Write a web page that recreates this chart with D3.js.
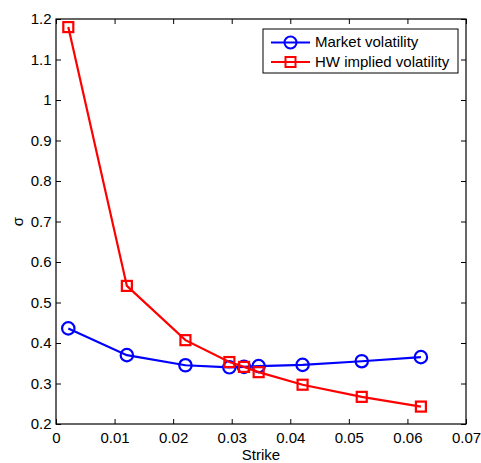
<!DOCTYPE html>
<html><head><meta charset="utf-8">
<script src="https://cdn.jsdelivr.net/npm/d3@7"></script>
<style>body{margin:0;background:#fff}svg{display:block}text{font-family:"Liberation Sans",Arial,sans-serif}</style>
</head><body><svg id="c" width="481" height="463"></svg>
<script>
const strikes = [0.0021, 0.0121, 0.0221, 0.0296, 0.0321, 0.0346, 0.0421, 0.0522, 0.0623];
const marketVol = [0.436, 0.370, 0.345, 0.340, 0.341, 0.343, 0.346, 0.355, 0.365];
const hwVol = [1.180, 0.541, 0.407, 0.353, 0.341, 0.328, 0.297, 0.267, 0.243];
const xTicks = [0, 0.01, 0.02, 0.03, 0.04, 0.05, 0.06, 0.07];
const yTicks = [0.2, 0.3, 0.4, 0.5, 0.6, 0.7, 0.8, 0.9, 1, 1.1, 1.2];
const seriesNames = ["Market volatility", "HW implied volatility"];

const L = 56, R = 466, T = 19, B = 424;
const FS = 15;
const svg = d3.select("#c");
const x = d3.scaleLinear().domain([0, 0.07]).range([L, R]);
const y = d3.scaleLinear().domain([0.2, 1.2]).range([B, T]);
const fmt = d => String(d);

function styleAxis(g){
  g.selectAll(".domain").remove();
  g.selectAll("line").attr("stroke", "#000").attr("stroke-width", 1);
  g.selectAll("text").attr("font-size", FS).attr("fill", "#000").attr("font-family", "Liberation Sans, Arial, sans-serif");
}
svg.append("g").attr("transform", `translate(0,${B})`)
  .call(d3.axisBottom(x).tickValues(xTicks).tickFormat(fmt).tickSizeInner(-5).tickPadding(8.5)).call(styleAxis);
svg.append("g").attr("transform", `translate(0,${T})`)
  .call(d3.axisTop(x).tickValues(xTicks).tickFormat("").tickSizeInner(-5)).call(styleAxis);
svg.append("g").attr("transform", `translate(${L},0)`)
  .call(d3.axisLeft(y).tickValues(yTicks).tickFormat(fmt).tickSizeInner(-5).tickPadding(4.5)).call(styleAxis);
svg.append("g").attr("transform", `translate(${R},0)`)
  .call(d3.axisRight(y).tickValues(yTicks).tickFormat("").tickSizeInner(-5)).call(styleAxis);
svg.append("rect").attr("x", L).attr("y", T).attr("width", R - L).attr("height", B - T)
  .attr("fill", "none").attr("stroke", "#000").attr("stroke-width", 1.2);

const line = d3.line().x(d => x(d[0])).y(d => y(d[1]));
const blue = "#0000ff", red = "#ff0000";
const mData = strikes.map((s, i) => [s, marketVol[i]]);
const hData = strikes.map((s, i) => [s, hwVol[i]]);

svg.append("path").datum(mData).attr("d", line).attr("fill", "none").attr("stroke", blue).attr("stroke-width", 2.2);
svg.append("g").selectAll("circle").data(mData).join("circle")
  .attr("cx", d => x(d[0])).attr("cy", d => y(d[1])).attr("r", 6.2)
  .attr("fill", "none").attr("stroke", blue).attr("stroke-width", 2.2);

svg.append("path").datum(hData).attr("d", line).attr("fill", "none").attr("stroke", red).attr("stroke-width", 2.2);
const sq = 10;
svg.append("g").selectAll("rect").data(hData).join("rect")
  .attr("x", d => x(d[0]) - sq/2).attr("y", d => y(d[1]) - sq/2).attr("width", sq).attr("height", sq)
  .attr("fill", "none").attr("stroke", red).attr("stroke-width", 2.2);

// axis labels
svg.append("text").attr("x", 261).attr("y", 460).attr("text-anchor", "middle").attr("font-size", FS).text("Strike");
svg.append("text").attr("transform", `translate(23,${(T + B) / 2}) rotate(-90)`).attr("text-anchor", "middle").attr("font-size", FS).text("σ");

// legend
const lg = svg.append("g");
lg.append("rect").attr("x", 263).attr("y", 29).attr("width", 195).attr("height", 44)
  .attr("fill", "#fff").attr("stroke", "#000").attr("stroke-width", 1);
const lc = [blue, red];
seriesNames.forEach((n, i) => {
  const ly = 42.5 + i * 19.5;
  lg.append("line").attr("x1", 271).attr("x2", 310).attr("y1", ly).attr("y2", ly).attr("stroke", lc[i]).attr("stroke-width", 2.2);
  if (i === 0) lg.append("circle").attr("cx", 290.5).attr("cy", ly).attr("r", 6).attr("fill", "none").attr("stroke", lc[i]).attr("stroke-width", 2);
  else lg.append("rect").attr("x", 290.5 - 5).attr("y", ly - 5).attr("width", 10).attr("height", 10).attr("fill", "none").attr("stroke", lc[i]).attr("stroke-width", 2);
  lg.append("text").attr("x", 315).attr("y", ly + 4.5).attr("font-size", FS).text(n);
});
</script></body></html>
